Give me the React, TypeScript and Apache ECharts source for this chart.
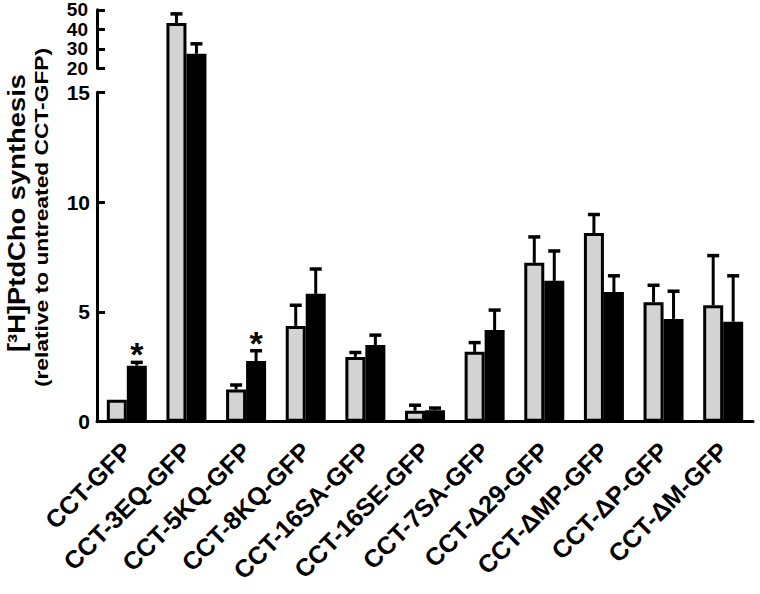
import React, { useEffect, useRef } from "react";
import * as echarts from "echarts";

const categories = [
  "CCT-GFP",
  "CCT-3EQ-GFP",
  "CCT-5KQ-GFP",
  "CCT-8KQ-GFP",
  "CCT-16SA-GFP",
  "CCT-16SE-GFP",
  "CCT-7SA-GFP",
  "CCT-Δ29-GFP",
  "CCT-ΔMP-GFP",
  "CCT-ΔP-GFP",
  "CCT-ΔM-GFP",
];
const untreated = [1.0, 43.2, 1.47, 4.36, 2.95, 0.5, 3.18, 7.23, 8.59, 5.44, 5.3];
const untreatedSE = [0, 4.7, 0.2, 0.94, 0.2, 0.25, 0.42, 1.18, 0.84, 0.77, 2.26];
const treated = [2.55, 27.4, 2.76, 5.82, 3.49, 0.52, 4.17, 6.41, 5.9, 4.68, 4.55];
const treatedSE = [0.15, 5.1, 0.47, 1.13, 0.45, 0.1, 0.91, 1.36, 0.74, 1.26, 2.09];
const treatedStar = [1, 0, 1, 0, 0, 0, 0, 0, 0, 0, 0];
const lowerTicks = { min: 0, max: 15, interval: 5 };
const upperTicks = { min: 20, max: 50, interval: 10 };
const upperTickValues = [20, 30, 40, 50];
const upperLabelsA = [20, 40];
const upperLabelsB = [30, 50];

// broken axis transform
const GAP = 1.093;
const UPPER_SCALE = 0.0885;
const toAxis = (v: number) =>
  v <= lowerTicks.max ? v : lowerTicks.max + GAP + (v - upperTicks.min) * UPPER_SCALE;

const FONT = "Liberation Sans";
const BAR_W = 20;

export default function App() {
  const ref = useRef<HTMLDivElement>(null);
  useEffect(() => {
    document.body.style.margin = "0";
    const chart = echarts.init(ref.current!, null, { renderer: "svg" });

    const errData = (vals: number[], se: number[], star: number[] | null) =>
      vals.map((v, i) => [i, toAxis(v), toAxis(v + se[i]), star ? star[i] : 0, se[i]]);

    const makeRender = (offset: number) => (params: any, api: any) => {
      const idx = api.value(0);
      const x = api.coord([idx, 0])[0] + offset;
      const yb = api.coord([idx, api.value(1)])[1];
      const yt = api.coord([idx, api.value(2)])[1];
      const children: any[] = [];
      if (api.value(4) > 0) {
        children.push({
          type: "line",
          shape: { x1: x, y1: yb, x2: x, y2: yt },
          style: { stroke: "#000", lineWidth: 3 },
        });
        children.push({
          type: "line",
          shape: { x1: x - 6, y1: yt, x2: x + 6, y2: yt },
          style: { stroke: "#000", lineWidth: 3.5 },
        });
      }
      if (api.value(3) > 0) {
        children.push({
          type: "text",
          x: x,
          y: yt - 8,
          style: {
            text: "*",
            fontSize: 34,
            fontWeight: "bold",
            fontFamily: FONT,
            fill: "#000",
            align: "center",
            verticalAlign: "middle",
          },
        });
      }
      return { type: "group", children };
    };

    const labelStyle = {
      color: "#000",
      fontSize: 21,
      fontWeight: "bold",
      fontFamily: FONT,
      margin: 7,
    };
    const upperLabelStyle = { ...labelStyle, fontSize: 19, lineHeight: 19, margin: 9 };
    const lineStyle = { show: true, onZero: false, lineStyle: { color: "#000", width: 3 } };
    const tickStyle = { show: true, inside: true, length: 8, lineStyle: { color: "#000", width: 3 } };

    chart.setOption({
      animation: false,
      grid: [
        { left: 97, right: 7, top: 9.8, bottom: 172.3 },
        { left: 97, right: 7, top: 92.3, bottom: 172.3 },
        { left: 97, right: 7, top: 9.8, height: 58.5 },
      ],
      xAxis: [
        {
          type: "category",
          gridIndex: 0,
          data: categories,
          axisLine: { lineStyle: { color: "#000", width: 3 } },
          axisTick: { alignWithLabel: true, length: 12, lineStyle: { color: "#000", width: 2.5 } },
          axisLabel: {
            interval: 0,
            rotate: 45,
            color: "#000",
            fontSize: 25,
            fontWeight: "bold",
            fontFamily: FONT,
            margin: 25,
          },
        },
        { type: "value", gridIndex: 1, min: 0, max: 1, show: false },
        { type: "value", gridIndex: 2, min: 0, max: 1, show: false },
      ],
      yAxis: [
        { type: "value", gridIndex: 0, min: 0, max: toAxis(upperTicks.max), show: false },
        {
          type: "value",
          gridIndex: 1,
          position: "left",
          ...lowerTicks,
          axisLine: lineStyle,
          axisTick: tickStyle,
          axisLabel: labelStyle,
          splitLine: { show: false },
        },
        {
          type: "value",
          gridIndex: 2,
          position: "left",
          ...upperTicks,
          axisLine: lineStyle,
          axisTick: { ...tickStyle, customValues: upperTickValues },
          axisLabel: { ...upperLabelStyle, customValues: upperLabelsA },
          splitLine: { show: false },
        },
        {
          type: "value",
          gridIndex: 2,
          position: "left",
          offset: 0,
          ...upperTicks,
          axisLine: { show: false, onZero: false },
          axisTick: { show: false },
          axisLabel: { ...upperLabelStyle, customValues: upperLabelsB },
          splitLine: { show: false },
        },
      ],
      series: [
        {
          type: "bar",
          name: "untreated",
          data: untreated.map(toAxis),
          barWidth: BAR_W,
          barGap: "0%",
          itemStyle: { color: "#d3d3d3", borderColor: "#000", borderWidth: 3 },
        },
        {
          type: "bar",
          name: "treated",
          data: treated.map(toAxis),
          barWidth: BAR_W,
          barGap: "0%",
          itemStyle: { color: "#000", borderColor: "#000", borderWidth: 3 },
        },
        {
          type: "custom",
          renderItem: makeRender(-BAR_W / 2),
          data: errData(untreated, untreatedSE, null),
          encode: { x: 0, y: [1, 2] },
          z: 5,
        },
        {
          type: "custom",
          renderItem: makeRender(BAR_W / 2),
          data: errData(treated, treatedSE, treatedStar),
          encode: { x: 0, y: [1, 2] },
          z: 5,
        },
      ],
      graphic: [
        {
          type: "text",
          x: 16.5,
          y: 213,
          rotation: Math.PI / 2,
          scaleX: 1.14,
          style: {
            text: "[³H]PtdCho synthesis",
            fontSize: 24,
            fontWeight: "bold",
            fontFamily: FONT,
            fill: "#000",
            align: "center",
            verticalAlign: "middle",
          },
        },
        {
          type: "text",
          x: 41,
          y: 217.5,
          rotation: Math.PI / 2,
          scaleX: 1.2,
          style: {
            text: "(relative to untreated CCT-GFP)",
            fontSize: 19,
            fontWeight: "bold",
            fontFamily: FONT,
            fill: "#000",
            align: "center",
            verticalAlign: "middle",
          },
        },
      ],
    });
    return () => chart.dispose();
  }, []);
  return <div ref={ref} style={{ width: 760, height: 594 }} />;
}
